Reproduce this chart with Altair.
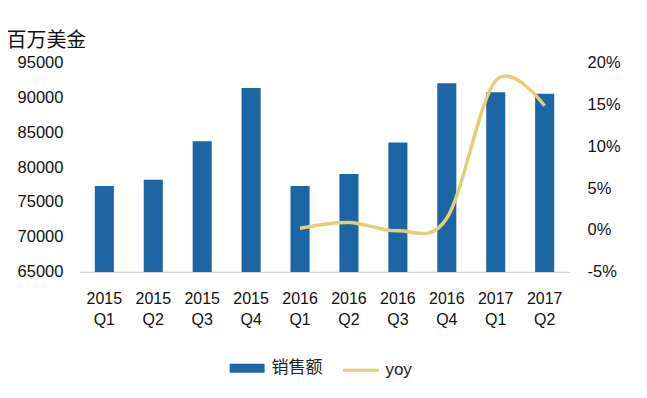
import altair as alt
import pandas as pd

quarters = ["2015 Q1", "2015 Q2", "2015 Q3", "2015 Q4", "2016 Q1",
            "2016 Q2", "2016 Q3", "2016 Q4", "2017 Q1", "2017 Q2"]
sales = [77300, 78200, 83700, 91300, 77300, 79000, 83500, 92000, 90700, 90500]
yoy = [None, None, None, None, 0.2, 0.9, -0.1, 1.4, 17.8, 14.8]

sales_ticks = [65000, 70000, 75000, 80000, 85000, 90000, 95000]
yoy_ticks = [-5, 0, 5, 10, 15, 20]

BLUE = "#1C66A6"
GOLD = "#E4CF74"
FONT = "Liberation Sans"
CJK = "Noto Sans CJK SC"

df = pd.DataFrame({"quarter": quarters, "sales": sales, "yoy": yoy,
                   "s1": ["销售额"] * len(quarters), "s2": ["yoy"] * len(quarters)})

x_enc = alt.X("quarter:N", sort=quarters,
              scale=alt.Scale(paddingInner=0.61, paddingOuter=0.305),
              axis=alt.Axis(title=None, labelAngle=0, ticks=False, labelPadding=19,
                            labelExpr="split(datum.label, ' ')", labelLineHeight=21,
                            labelFontSize=16, labelFont=FONT, labelColor="#111",
                            domainColor="#d4d4d4", domainWidth=1.2))

bars = alt.Chart(df).mark_bar(color=BLUE, clip=True).encode(
    x=x_enc,
    y=alt.Y("sales:Q", scale=alt.Scale(domain=[65000, 95000], nice=False, zero=False),
            axis=alt.Axis(values=sales_ticks, format="d", ticks=False, domain=False,
                          grid=False, labelPadding=17, labelFontSize=16.5,
                          labelFont=FONT, labelColor="#111",
                          title="百万美金", titleAngle=0, titleAlign="left",
                          titleBaseline="middle", titleX=-74, titleY=-22,
                          titleFont=CJK, titleFontSize=20, titleFontWeight="normal",
                          titleColor="#111")),
    y2=alt.datum(65000),
    color=alt.Color("s1:N", scale=alt.Scale(domain=["销售额"], range=[BLUE]),
                    legend=alt.Legend(title=None, orient="none", legendX=150, legendY=289,
                                      symbolType="M-1,-0.26H1V0.26H-1Z", symbolSize=1225,
                                      symbolStrokeWidth=0, symbolOpacity=1,
                                      labelFont=CJK, labelFontSize=17, labelColor="#222",
                                      labelOffset=7)),
)

line = alt.Chart(df).transform_filter("datum.yoy != null").mark_line(
    interpolate="cardinal", tension=0, strokeWidth=3.5, color=GOLD).encode(
    x=alt.X("quarter:N", sort=quarters),
    y=alt.Y("yoy:Q", scale=alt.Scale(domain=[-5, 20], nice=False, zero=False),
            axis=alt.Axis(orient="right", values=yoy_ticks, labelExpr="datum.value + '%'",
                          ticks=False, domain=False, grid=False, labelPadding=18,
                          labelFontSize=16.5, labelFont=FONT, labelColor="#111", title=None)),
    stroke=alt.Stroke("s2:N", scale=alt.Scale(domain=["yoy"], range=[GOLD]),
                      legend=alt.Legend(title=None, orient="none", legendX=262, legendY=289,
                                        symbolType="stroke", symbolSize=1296,
                                        symbolStrokeWidth=3, labelFont=FONT,
                                        labelFontSize=17, labelColor="#222",
                                        labelOffset=5)),
)

chart = alt.layer(bars, line).resolve_scale(y="independent").properties(
    width=490, height=210,
    background="white",
    autosize=alt.AutoSizeParams(type="none"),
    padding={"left": 72, "top": 54, "right": 70, "bottom": 120},
).configure_view(stroke=None)

chart.save("out.html", embed_options={"renderer": "svg", "actions": False})
